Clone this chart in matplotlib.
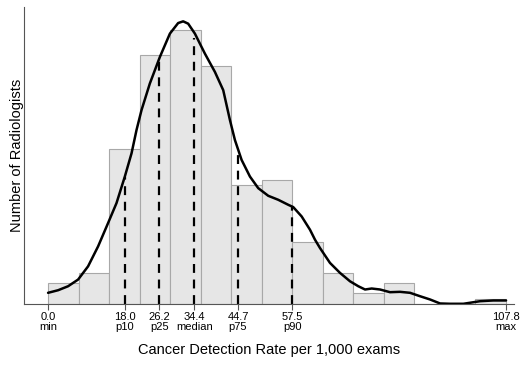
import matplotlib.pyplot as plt
import numpy as np

plt.rcParams["font.family"] = ["Liberation Sans", "DejaVu Sans"]

# histogram counts, 15 bins from min to max
counts = [4, 6, 30, 48, 53, 46, 23, 24, 12, 6, 2, 4, 0, 0, 1]
rate_min = 0.0
rate_max = 107.8

# smoothed density curve (scaled to counts)
curve_x = [0.0, 2.36, 4.71, 7.07, 9.42, 11.78, 14.13, 16.11, 18.07, 19.65,
           20.82, 22.0, 23.96, 26.32, 28.68, 30.62, 31.8, 32.98, 34.56, 36.91,
           39.27, 41.23, 42.81, 43.98, 45.56, 47.52, 49.47, 51.83, 54.18,
           56.54, 57.71, 59.69, 61.65, 62.83, 64.0, 66.36, 68.72, 71.07,
           73.03, 74.61, 76.18, 78.14, 80.49, 82.85, 85.21, 87.56, 89.92,
           92.27, 94.6, 97.76, 101.7, 104.8, 107.8]
curve_y = [2.12, 2.62, 3.39, 4.68, 7.24, 11.1, 15.61, 19.46, 24.59, 29.09,
           33.58, 37.44, 42.58, 47.71, 52.22, 54.26, 54.59, 54.14, 52.22, 48.36,
           44.82, 41.29, 35.51, 31.66, 27.8, 24.59, 22.35, 20.87, 20.1,
           19.13, 18.69, 16.88, 14.32, 12.39, 10.79, 7.9, 5.97, 4.35,
           3.39, 2.76, 2.95, 2.76, 2.24, 2.31, 2.12, 1.46, 0.83,
           0.06, 0.0, 0.0, 0.5, 0.64, 0.64]

# percentiles
pct_values = [18.0, 26.2, 34.4, 44.7, 57.5]
pct_heights = [24.6, 47.1, 51.3, 29.1, 18.7]
tick_values = [0.0, 18.0, 26.2, 34.4, 44.7, 57.5, 107.8]
tick_names = ["min", "p10", "p25", "median", "p75", "p90", "max"]

fig, ax = plt.subplots(figsize=(5.3, 3.66), dpi=100)
fig.subplots_adjust(left=0.045, right=0.97, top=0.98, bottom=0.17)

edges = np.linspace(rate_min, rate_max, len(counts) + 1)
ax.bar(edges[:-1], counts, width=np.diff(edges), align="edge",
       color="#e6e6e6", edgecolor="#a8a8a8", linewidth=0.8)

ax.plot(curve_x, curve_y, color="black", linewidth=1.8,
        solid_joinstyle="round", solid_capstyle="round")
ax.vlines(pct_values, 0, pct_heights, colors="black", linestyles=(0, (4, 3)),
          linewidth=1.6)

ax.set_xlim(-5.7, 109.7)
ax.set_ylim(0, 57.3)

ax.set_xticks(tick_values)
ax.set_xticklabels([f"{v:.1f}\n{n}" for v, n in zip(tick_values, tick_names)],
                   fontsize=8, linespacing=1.0)
ax.tick_params(axis="x", length=4, width=0.8, color="#555555", pad=2)
ax.set_yticks([])

for s in ["top", "right"]:
    ax.spines[s].set_visible(False)
for s in ["left", "bottom"]:
    ax.spines[s].set_color("#555555")
    ax.spines[s].set_linewidth(0.8)

ax.set_xlabel("Cancer Detection Rate per 1,000 exams", fontsize=10.5, labelpad=8)
ax.set_ylabel("Number of Radiologists", fontsize=10.5, labelpad=0)

plt.savefig("out.png")
